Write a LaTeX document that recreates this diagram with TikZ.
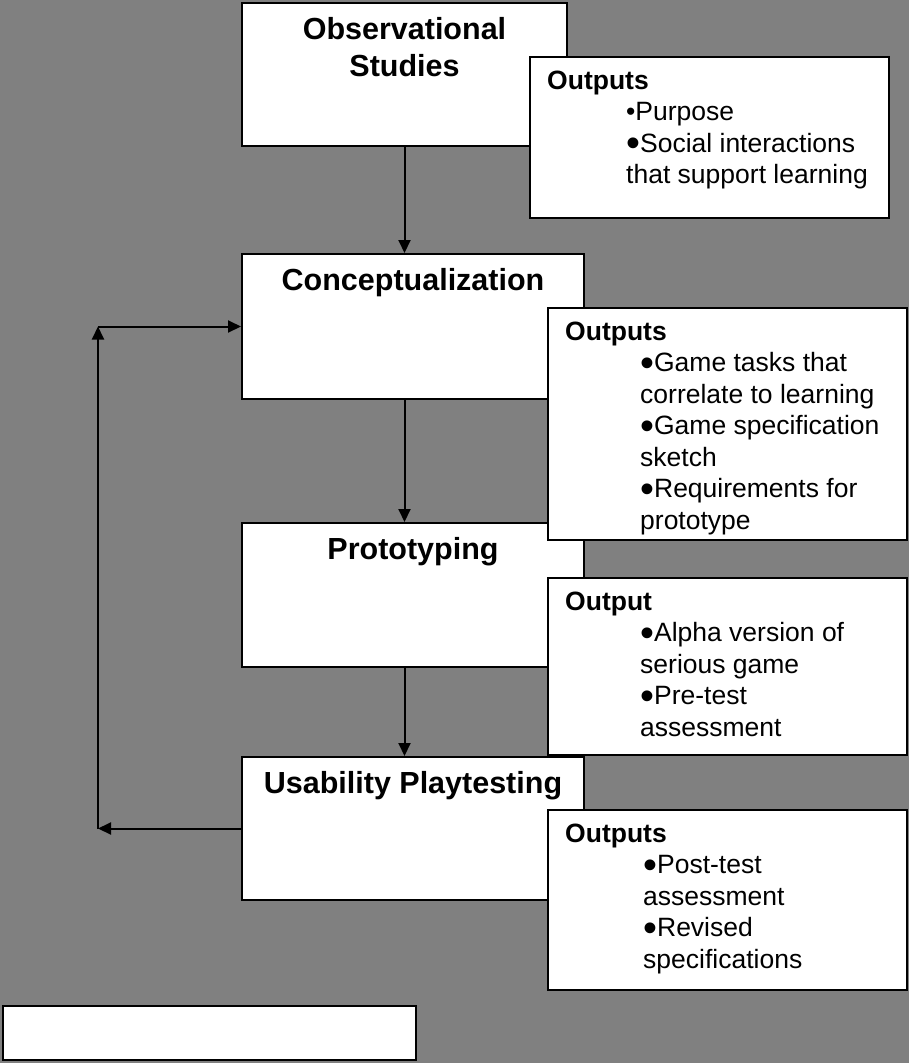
\documentclass[tikz,border=0pt]{standalone}
\usepackage{fontspec}
\setmainfont{Liberation Sans}
\usepackage{graphicx}
\usetikzlibrary{arrows.meta}

\definecolor{canvas}{HTML}{808080}

% large list bullet used in the output lists
\newcommand{\bigdot}{\raisebox{-0.18em}{\scalebox{1.5}{•}}}

\tikzset{
  stage/.style={draw=black, line width=2pt, fill=white, anchor=north west, inner sep=0pt},
  outbox/.style={draw=black, line width=2pt, fill=white, anchor=north west, inner sep=0pt},
  title/.style={anchor=base, inner sep=0pt, font=\fontsize{30.5}{37}\selectfont\bfseries},
  outtext/.style={anchor=base west, inner sep=0pt, font=\fontsize{26.5}{31.5}\selectfont},
  flow/.style={line width=2pt, -{Triangle[length=13pt,width=12pt]}},
}

\begin{document}
\begin{tikzpicture}[x=1pt, y=-1pt]
\useasboundingbox (0,0) rectangle (909,1063);
\fill[canvas] (0,0) rectangle (909,1063);

% process stages
\node[stage, minimum width=325pt, minimum height=143pt] (obs) at (241,2) {};
\node[stage, minimum width=342pt, minimum height=145pt] (concept) at (241,253) {};
\node[stage, minimum width=342pt, minimum height=144pt] (proto) at (241,522) {};
\node[stage, minimum width=342pt, minimum height=143pt] (usab) at (241,756) {};

% output boxes, drawn over the stages
\node[outbox, minimum width=359pt, minimum height=161pt] (out1) at (529,56) {};
\node[outbox, minimum width=359pt, minimum height=232pt] (out2) at (547,307) {};
\node[outbox, minimum width=359pt, minimum height=177pt] (out3) at (547,577) {};
\node[outbox, minimum width=359pt, minimum height=180pt] (out4) at (547,809) {};

% empty caption box
\node[stage, minimum width=413pt, minimum height=54pt] (note) at (2,1005) {};

% stage titles
\node[title] (obsT) at ([yshift=-37pt]obs.north)
  {\begin{tabular}[t]{@{}c@{}}Observational\\Studies\end{tabular}};
\node[title] (conceptT) at ([yshift=-37pt]concept.north) {Conceptualization};
\node[title] (protoT) at ([yshift=-37pt]proto.north) {Prototyping};
\node[title] (usabT) at ([yshift=-37pt]usab.north) {Usability Playtesting};

% output lists
\node[outtext] (out1T) at ([xshift=18pt,yshift=-33pt]out1.north west)
  {\begin{tabular}[t]{@{}l@{}}
   \textbf{Outputs}\\
   \hspace*{79pt}•Purpose\\
   \hspace*{79pt}\bigdot Social interactions\\
   \hspace*{79pt}that support learning
   \end{tabular}};
\node[outtext] (out2T) at ([xshift=18pt,yshift=-33pt]out2.north west)
  {\begin{tabular}[t]{@{}l@{}}
   \textbf{Outputs}\\
   \hspace*{75pt}\bigdot Game tasks that\\
   \hspace*{75pt}correlate to learning\\
   \hspace*{75pt}\bigdot Game specification\\
   \hspace*{75pt}sketch\\
   \hspace*{75pt}\bigdot Requirements for\\
   \hspace*{75pt}prototype
   \end{tabular}};
\node[outtext] (out3T) at ([xshift=18pt,yshift=-33pt]out3.north west)
  {\begin{tabular}[t]{@{}l@{}}
   \textbf{Output}\\
   \hspace*{75pt}\bigdot Alpha version of\\
   \hspace*{75pt}serious game\\
   \hspace*{75pt}\bigdot Pre-test\\
   \hspace*{75pt}assessment
   \end{tabular}};
\node[outtext] (out4T) at ([xshift=18pt,yshift=-33pt]out4.north west)
  {\begin{tabular}[t]{@{}l@{}}
   \textbf{Outputs}\\
   \hspace*{78pt}\bigdot Post-test\\
   \hspace*{78pt}assessment\\
   \hspace*{78pt}\bigdot Revised\\
   \hspace*{78pt}specifications
   \end{tabular}};

% main flow
\draw[flow] (obs.south) -- (obs.south |- concept.north);
\draw[flow] (obs.south |- concept.south) -- (obs.south |- proto.north);
\draw[flow] (obs.south |- proto.south) -- (obs.south |- usab.north);

% feedback loop from playtesting back to conceptualization
\coordinate (railx) at (98,0);
\coordinate (fbl) at (usab.west -| railx);
\coordinate (fbt) at (concept.west -| railx);
\draw[flow] (usab.west) -- (fbl);
\draw[flow] (fbl) -- (fbt);
\draw[flow] (fbt) -- (concept.west);
\end{tikzpicture}
\end{document}
